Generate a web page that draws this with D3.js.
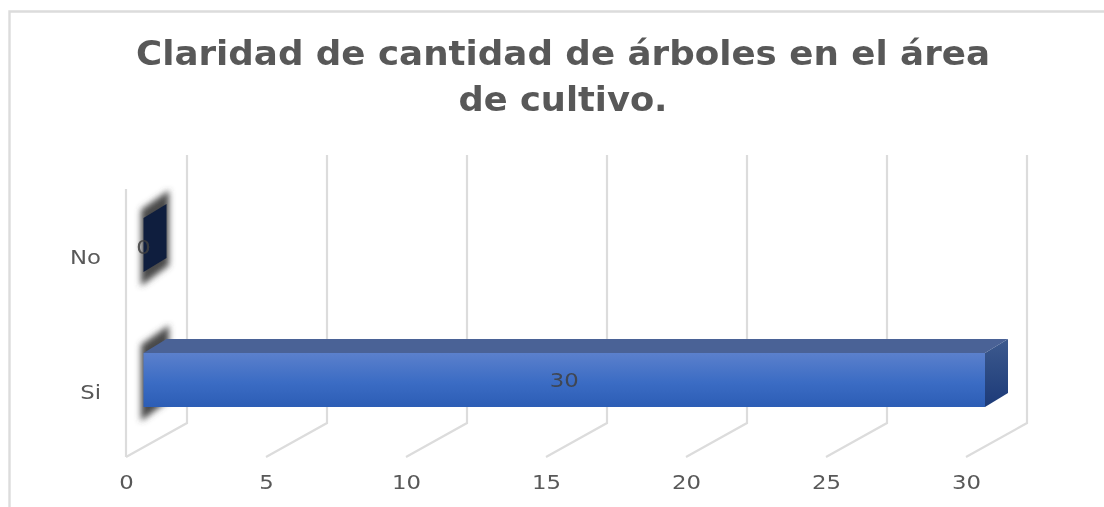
<!DOCTYPE html>
<html><head><meta charset="utf-8">
<style>html,body{margin:0;padding:0;background:#fff}svg{display:block}</style>
<script src="https://cdn.jsdelivr.net/npm/d3@7"></script></head><body>
<div id="chart"></div>
<script>
const titleLines = ["Claridad de cantidad de árboles en el área", "de cultivo."];
const categories = ["No", "Si"];
const seriesValues = [0, 30];
const tickValues = [0, 5, 10, 15, 20, 25, 30];

const W = 1104, H = 507;
const svg = d3.select("#chart").append("svg").attr("width", W).attr("height", H);
const defs = svg.append("defs");
defs.append("filter").attr("id","soft").append("feGaussianBlur").attr("stdDeviation",0.65);
const shadow = defs.append("filter").attr("id","shadow").attr("filterUnits","userSpaceOnUse")
  .attr("x",100).attr("y",160).attr("width",120).attr("height",290);
shadow.append("feGaussianBlur").attr("stdDeviation",3);
const grad = defs.append("linearGradient").attr("id","front").attr("x1",0).attr("y1",0).attr("x2",0).attr("y2",1);
[[0,"#5b80cc"],[0.55,"#3b6cc4"],[1,"#2c5db5"]].forEach(d=>grad.append("stop").attr("offset",d[0]).attr("stop-color",d[1]));
const gradS = defs.append("linearGradient").attr("id","side").attr("x1",0).attr("y1",0).attr("x2",0).attr("y2",1);
[[0,"#3d5a8e"],[1,"#1c3a78"]].forEach(d=>gradS.append("stop").attr("offset",d[0]).attr("stop-color",d[1]));

// frame: open on the right and bottom, as cropped in the reference
svg.append("path").attr("d","M9.5 507V11.5H1104").attr("fill","none").attr("stroke","#dcdcdc").attr("stroke-width",2.4);

// title
const title = svg.append("g").attr("filter","url(#soft)");
title.selectAll("text").data(titleLines).join("text")
  .attr("x",563).attr("y",(d,i)=>65+i*46)
  .attr("text-anchor","middle")
  .attr("font-family","DejaVu Sans").attr("font-weight","bold").attr("font-size",33)
  .attr("fill","#595959")
  .attr("textLength",(d,i)=>i===0?854:209).attr("lengthAdjust","spacingAndGlyphs")
  .text(d=>d);

// scales
const x = d3.scaleLinear().domain([0,30]).range([126,966]);
const y = d3.scaleBand().domain(categories).range([177.5,447.5]);
const dx = 61, dy = -34, wallH = 268;
const floorY = 457;

const grid = svg.append("g").attr("stroke","#dcdcdc").attr("stroke-width",2.2).attr("fill","none").attr("filter","url(#soft)");
tickValues.forEach(t=>{
  const x0 = x(t);
  grid.append("path").attr("d",`M${x0} ${floorY}L${x0+dx} ${floorY+dy}V${floorY-wallH-34}`);
});
grid.append("path").attr("d",`M${x(0)} ${floorY}V${floorY-wallH}`);

// bars
const bx = d3.scaleLinear().domain([0,30]).range([143.5,985]);
const bd = {x:23,y:-14};
const barH = 54;
const bars = svg.append("g");
const stretch = 1.2;
categories.forEach((c,i)=>{
  const v = seriesValues[i];
  const cy = y(c)+y.bandwidth()/2;
  const t = cy-barH/2, b = cy+barH/2;
  const l = bx(0), r = bx(v);
  const sh = `M${l} ${t}L${l+bd.x} ${t+bd.y}V${b+bd.y}L${l} ${b}Z`;
  const shWide = `M${l} ${t-7}L${l+bd.x} ${t+bd.y-9}V${b+bd.y+6}L${l} ${b+9}Z`;
  bars.append("path").attr("d",shWide).attr("fill","#4a4a4a").attr("stroke","#4a4a4a").attr("stroke-width",5).attr("filter","url(#shadow)");
  if(v===0){
    bars.append("path").attr("d",sh).attr("fill","#0f1e3e");
  } else {
    bars.append("path").attr("d",`M${l} ${t}L${l+bd.x} ${t+bd.y}H${r+bd.x}L${r} ${t}Z`).attr("fill","#4a6296");
    bars.append("path").attr("d",`M${r} ${t}L${r+bd.x} ${t+bd.y}V${b+bd.y}L${r} ${b}Z`).attr("fill","url(#side)");
    bars.append("rect").attr("x",l).attr("y",t).attr("width",r-l).attr("height",b-t).attr("fill","url(#front)");
  }
  svg.append("g").attr("transform",`translate(${(l+r)/2},${cy+(v===0?9:7)}) scale(${stretch},1)`).attr("filter","url(#soft)")
    .append("text").attr("text-anchor","middle").attr("font-family","DejaVu Sans").attr("font-size",19)
    .attr("fill","#404040").attr("fill-opacity",.85).text(v);
});

// category labels
categories.forEach(c=>{
  svg.append("g").attr("transform",`translate(101,${y(c)+y.bandwidth()/2+19}) scale(${stretch},1)`).attr("filter","url(#soft)")
    .append("text").attr("text-anchor","end").attr("font-family","DejaVu Sans").attr("font-size",19).attr("fill","#595959").text(c);
});

// value axis labels
const axisG = svg.append("g").attr("transform",`translate(0,${floorY})`).attr("filter","url(#soft)");
axisG.call(d3.axisBottom(x).tickValues(tickValues).tickSize(0).tickPadding(19));
axisG.select(".domain").remove();
axisG.selectAll("text").attr("font-family","DejaVu Sans").attr("font-size",19).attr("fill","#595959")
  .attr("transform",`scale(${stretch},1)`);
</script></body></html>
